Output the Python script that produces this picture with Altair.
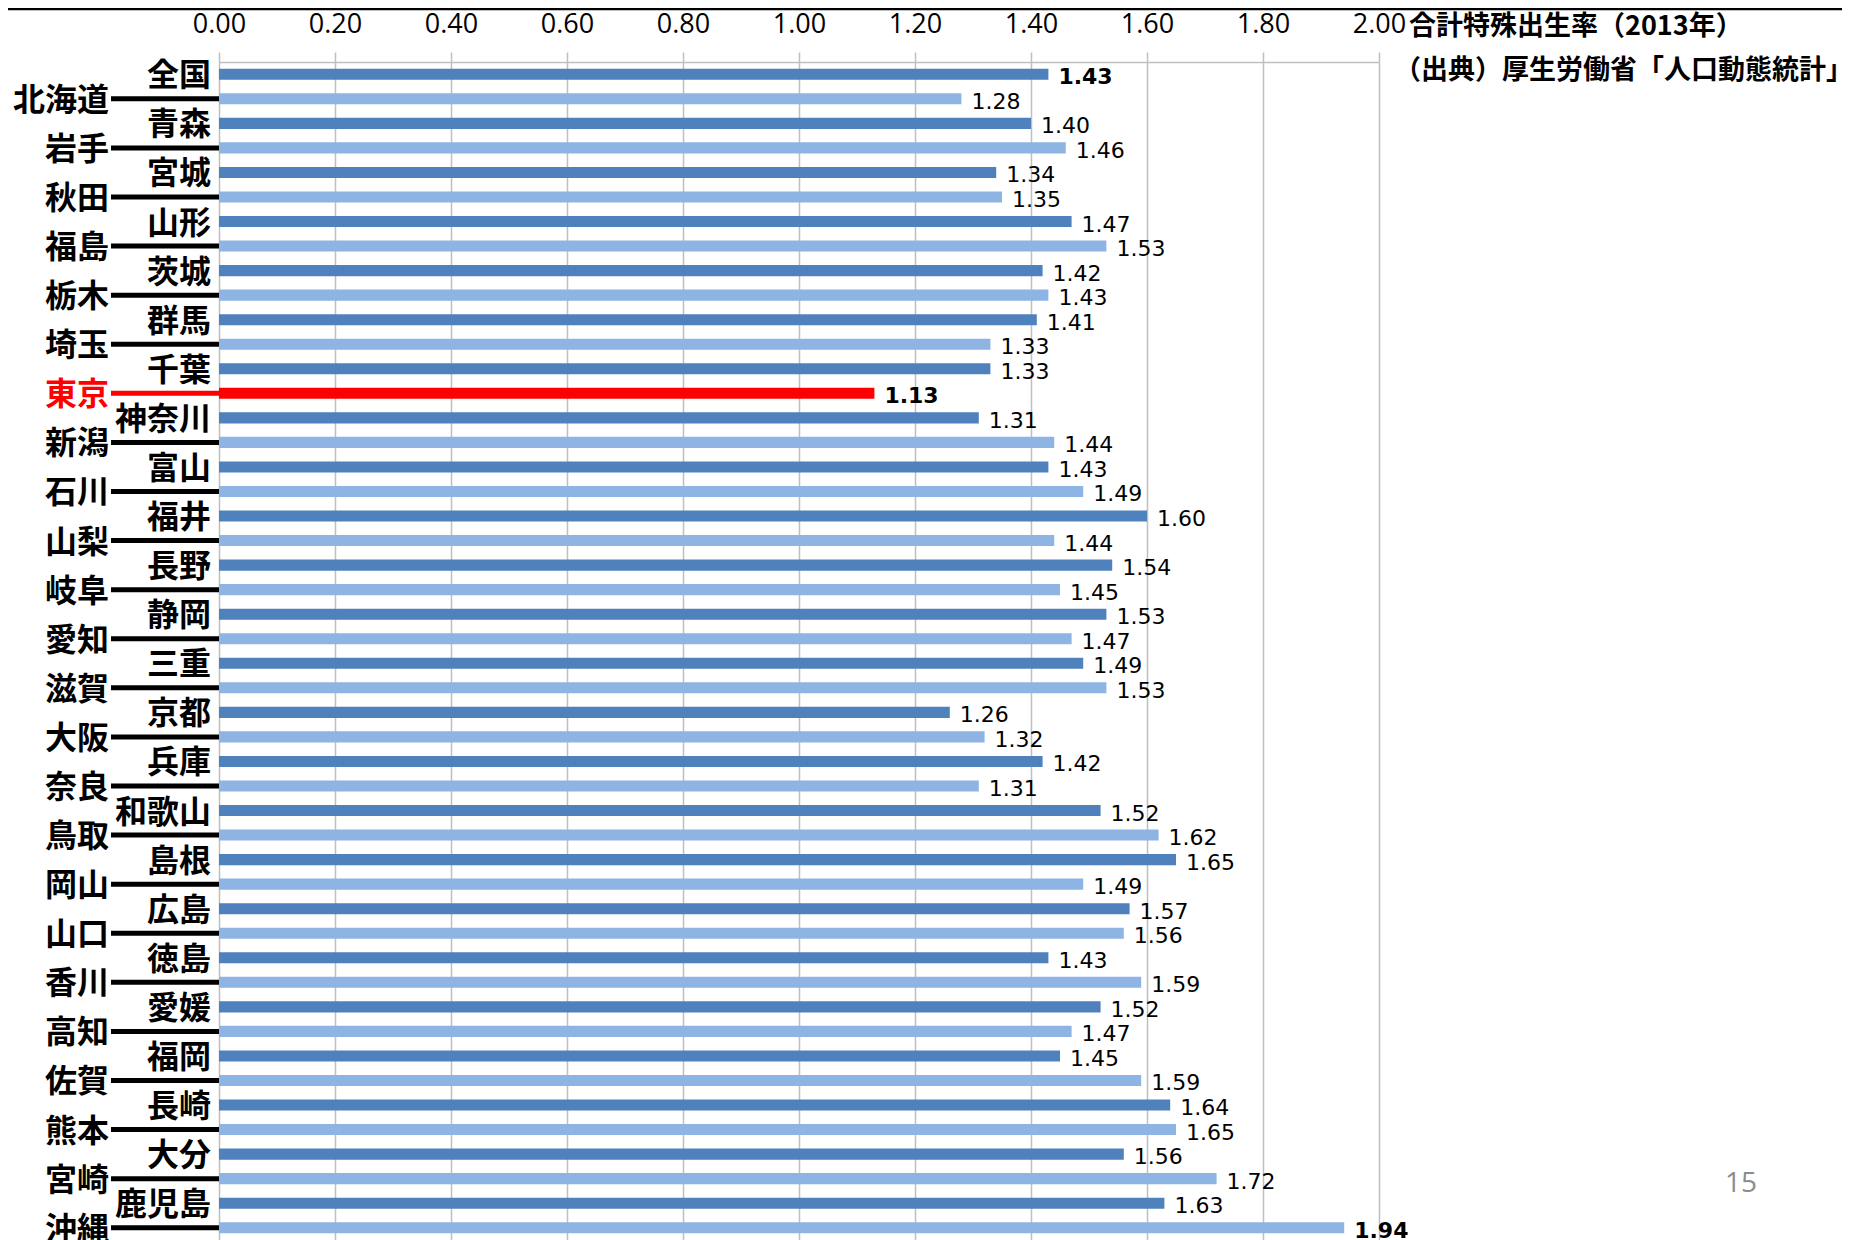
import altair as alt
import pandas as pd

prefs = ["全国", "北海道", "青森", "岩手", "宮城", "秋田", "山形", "福島", "茨城", "栃木",
         "群馬", "埼玉", "千葉", "東京", "神奈川", "新潟", "富山", "石川", "福井", "山梨",
         "長野", "岐阜", "静岡", "愛知", "三重", "滋賀", "京都", "大阪", "兵庫", "奈良",
         "和歌山", "鳥取", "島根", "岡山", "広島", "山口", "徳島", "香川", "愛媛", "高知",
         "福岡", "佐賀", "長崎", "熊本", "大分", "宮崎", "鹿児島", "沖縄"]
rates = [1.43, 1.28, 1.40, 1.46, 1.34, 1.35, 1.47, 1.53, 1.42, 1.43,
         1.41, 1.33, 1.33, 1.13, 1.31, 1.44, 1.43, 1.49, 1.60, 1.44,
         1.54, 1.45, 1.53, 1.47, 1.49, 1.53, 1.26, 1.32, 1.42, 1.31,
         1.52, 1.62, 1.65, 1.49, 1.57, 1.56, 1.43, 1.59, 1.52, 1.47,
         1.45, 1.59, 1.64, 1.65, 1.56, 1.72, 1.63, 1.94]
highlight = "東京"
bold_labels = ["全国", "東京", "沖縄"]
x_ticks = [0.0, 0.2, 0.4, 0.6, 0.8, 1.0, 1.2, 1.4, 1.6, 1.8, 2.0]
title_lines = ["合計特殊出生率（2013年）", "（出典）厚生労働省「人口動態統計」"]
page_number = "15"

rows = []
for i, (p, r) in enumerate(zip(prefs, rates)):
    if p == highlight:
        grp = "hl"
    else:
        grp = "dark" if i % 2 == 0 else "light"
    rows.append({
        "pref": p,
        "rate": r,
        "col": "inner" if i % 2 == 0 else "outer",
        "grp": grp,
        "labcolor": "#FF0000" if p == highlight else "#000000",
        "bold": p in bold_labels,
        "label": f"{r:.2f}",
    })
df = pd.DataFrame(rows)

W = 1160
H = 1178

y_enc = alt.Y("pref:N", sort=prefs, axis=None,
              scale=alt.Scale(paddingInner=0.55, paddingOuter=0.275))

base = alt.Chart(df)

bars = base.mark_bar().encode(
    x=alt.X("rate:Q",
            scale=alt.Scale(domain=[0, 2], nice=False, zero=True),
            axis=alt.Axis(orient="top", values=x_ticks, format=".2f", title=None,
                          labelFont="Open Sans", labelFontSize=27, labelColor="#000000",
                          labelFlush=False, labelOverlap=False,
                          labelPadding=14, tickSize=10, tickColor="#BFBFBF", tickWidth=1.5,
                          grid=True, gridColor="#BFBFBF", gridWidth=1.5,
                          domain=True, domainColor="#BFBFBF", domainWidth=1.5)),
    y=y_enc,
    color=alt.Color("grp:N", legend=None,
                    scale=alt.Scale(domain=["dark", "light", "hl"],
                                    range=["#4F81BD", "#8EB4E3", "#FF0000"])),
)

vals_norm = base.transform_filter(alt.datum.bold == False).mark_text(
    align="left", baseline="middle", dx=10, dy=3,
    font="DejaVu Sans", fontSize=22, color="#000000"
).encode(x="rate:Q", y=y_enc, text="label:N")

vals_bold = base.transform_filter(alt.datum.bold == True).mark_text(
    align="left", baseline="middle", dx=10, dy=3,
    font="DejaVu Sans", fontSize=22, fontWeight="bold", color="#000000"
).encode(x="rate:Q", y=y_enc, text="label:N")

lab_inner = base.transform_filter(alt.datum.col == "inner").mark_text(
    align="right", baseline="middle", dy=2,
    font="Noto Sans CJK JP", fontSize=32, fontWeight="bold"
).encode(x=alt.value(-8), y=y_enc, text="pref:N",
         color=alt.Color("labcolor:N", scale=None))

lab_outer = base.transform_filter(alt.datum.col == "outer").mark_text(
    align="right", baseline="middle", dy=2,
    font="Noto Sans CJK JP", fontSize=32, fontWeight="bold"
).encode(x=alt.value(-110), y=y_enc, text="pref:N",
         color=alt.Color("labcolor:N", scale=None))

leaders = base.transform_filter(alt.datum.col == "outer").mark_rule(
    strokeWidth=5
).encode(x=alt.value(-108), x2=alt.value(0), y=y_enc,
         color=alt.Color("labcolor:N", scale=None))

t1 = alt.Chart(pd.DataFrame({"t": [title_lines[0]]})).mark_text(
    align="left", baseline="middle", font="Noto Sans CJK JP", fontSize=27,
    fontWeight="bold", color="#000000"
).encode(x=alt.value(1190), y=alt.value(-35), text="t:N")

t2 = alt.Chart(pd.DataFrame({"t": [title_lines[1]]})).mark_text(
    align="left", baseline="middle", font="Noto Sans CJK JP", fontSize=27,
    fontWeight="bold", color="#000000"
).encode(x=alt.value(1175), y=alt.value(9), text="t:N")

pg = alt.Chart(pd.DataFrame({"t": [page_number]})).mark_text(
    align="center", baseline="middle", font="Open Sans", fontSize=28, color="#8C8C8C"
).encode(x=alt.value(1522), y=alt.value(1122), text="t:N")

border = alt.Chart(pd.DataFrame({"t": [0]})).mark_rule(
    strokeWidth=2.5, color="#000000"
).encode(x=alt.value(-211), x2=alt.value(W + 463), y=alt.value(-53))

chart = alt.layer(bars, vals_norm, vals_bold, leaders, lab_inner, lab_outer,
                  t1, t2, pg, border).properties(
    width=W, height=H,
    autosize=alt.AutoSizeParams(type="none"),
    padding={"left": 211, "top": 54, "right": 463, "bottom": 0},
    background="#FFFFFF",
).configure_view(stroke=None)

chart.save("out.html", embed_options={"renderer": "svg", "actions": False})
